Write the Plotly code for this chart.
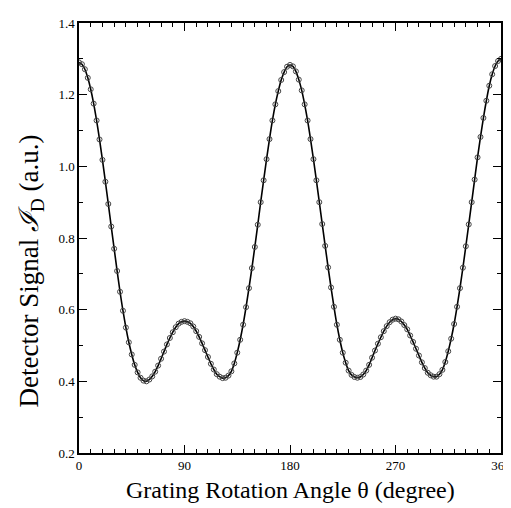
import plotly.graph_objects as go

theta = [i * 2.5 for i in range(145)]
signal = [
    1.290, 1.285, 1.271, 1.247, 1.215, 1.175, 1.128, 1.075, 1.018, 0.957,
    0.895, 0.832, 0.770, 0.708, 0.650, 0.597, 0.550, 0.509, 0.475, 0.446,
    0.425, 0.410, 0.402, 0.400, 0.405, 0.414, 0.427, 0.444, 0.463, 0.483,
    0.503, 0.521, 0.537, 0.551, 0.561, 0.566, 0.568, 0.566, 0.562, 0.553,
    0.540, 0.524, 0.506, 0.487, 0.468, 0.449, 0.433, 0.420, 0.413, 0.409,
    0.410, 0.416, 0.428, 0.450, 0.480, 0.516, 0.558, 0.607, 0.660, 0.716,
    0.775, 0.837, 0.900, 0.961, 1.020, 1.076, 1.128, 1.173, 1.210, 1.241,
    1.263, 1.278, 1.283, 1.279, 1.265, 1.242, 1.212, 1.173, 1.128, 1.076,
    1.020, 0.961, 0.900, 0.839, 0.778, 0.718, 0.662, 0.608, 0.558, 0.516,
    0.480, 0.452, 0.430, 0.418, 0.412, 0.410, 0.412, 0.419, 0.430, 0.446,
    0.466, 0.486, 0.505, 0.523, 0.540, 0.554, 0.565, 0.572, 0.575, 0.573,
    0.567, 0.557, 0.545, 0.528, 0.510, 0.491, 0.472, 0.453, 0.437, 0.424,
    0.417, 0.413, 0.413, 0.420, 0.432, 0.454, 0.484, 0.519, 0.560, 0.608,
    0.660, 0.717, 0.777, 0.838, 0.900, 0.963, 1.025, 1.082, 1.135, 1.183,
    1.225, 1.257, 1.280, 1.294, 1.300,
]

x_ticks = [0, 90, 180, 270, 360]
y_ticks = [0.2, 0.4, 0.6, 0.8, 1.0, 1.2, 1.4]

fig = go.Figure()
fig.add_trace(go.Scatter(x=theta, y=signal, mode="lines",
                         line=dict(color="black", width=1.6, shape="spline"),
                         showlegend=False, hoverinfo="skip"))
fig.add_trace(go.Scatter(x=theta, y=signal, mode="markers",
                         marker=dict(symbol="circle-open", size=5, color="#444444",
                                     line=dict(width=1)),
                         showlegend=False))

font = "Liberation Serif, Times New Roman, serif"
fig.update_layout(
    width=511, height=508,
    margin=dict(l=71, r=8, t=15, b=63),
    paper_bgcolor="white", plot_bgcolor="white",
    font=dict(family=font, color="black", size=13),
    annotations=[
        dict(text="Grating Rotation Angle θ (degree)", xref="paper", yref="paper",
             x=0.5, y=-0.087, xanchor="center", yanchor="middle", showarrow=False,
             font=dict(family=font, size=24, color="black")),
        dict(text="Detector Signal <i>ℐ</i><sub>D</sub> (a.u.)", xref="paper", yref="paper",
             x=-0.113, y=0.423, xanchor="center", yanchor="middle", showarrow=False,
             textangle=-90, font=dict(family=font, size=27, color="black")),
    ],
)
fig.update_xaxes(
    range=[0, 360], tickvals=x_ticks, ticktext=[str(v) for v in x_ticks],
    ticks="inside", ticklen=8, tickwidth=1.2, tickcolor="black",
    minor=dict(dtick=10, ticks="inside", ticklen=4, tickwidth=1, tickcolor="black"),
    showline=True, linecolor="black", linewidth=1.5, mirror="ticks",
    showgrid=False, zeroline=False,
    tickfont=dict(family=font, size=13, color="black"),
)
fig.update_yaxes(
    range=[0.2, 1.4], tickvals=y_ticks, ticktext=[f"{v:.1f}" for v in y_ticks],
    ticks="inside", ticklen=8, tickwidth=1.2, tickcolor="black",
    minor=dict(dtick=0.1, ticks="inside", ticklen=4, tickwidth=1, tickcolor="black"),
    showline=True, linecolor="black", linewidth=1.5, mirror="ticks",
    showgrid=False, zeroline=False,
    tickfont=dict(family=font, size=13, color="black"),
)
fig.write_html("out.html")
